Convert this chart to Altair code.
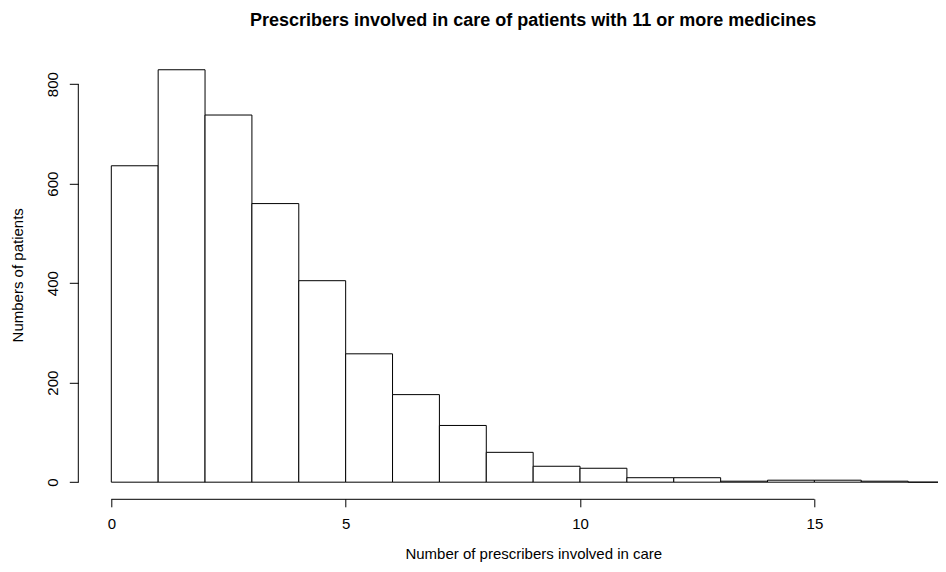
import altair as alt
import pandas as pd

# Histogram bins (number of prescribers) and counts (numbers of patients)
bin_start = list(range(0, 18))
bin_end = list(range(1, 19))
counts = [636, 829, 738, 560, 405, 258, 176, 114, 60, 32, 28, 9, 9, 2, 4, 4, 2, 0]

x_ticks = [0, 5, 10, 15]
y_ticks = [0, 200, 400, 600, 800]

title_text = "Prescribers involved in care of patients with 11 or more medicines"
x_title = "Number of prescribers involved in care"
y_title = "Numbers of patients"

FONT = "Liberation Sans"
PAD_L = 70.3
PAD_T = 42.8
W = 859.7
H = 448
PAD_B = 555 - PAD_T - H

df = pd.DataFrame({"start": bin_start, "end": bin_end, "count": counts})
xaxis_df = pd.DataFrame({"a": [min(x_ticks)], "b": [max(x_ticks)]})
yaxis_df = pd.DataFrame({"a": [min(y_ticks)], "b": [max(y_ticks)]})

xscale = alt.Scale(domain=[-0.704, 17.637], nice=False, zero=False)
yscale = alt.Scale(domain=[-33.4, 867.1], nice=False, zero=False)

bars = alt.Chart(df).mark_rect(
    fill="white", stroke="black", strokeWidth=1, clip=True
).encode(
    x=alt.X("start:Q", scale=xscale,
            axis=alt.Axis(values=x_ticks, domain=False, grid=False, tickSize=8,
                          tickColor="black", labelPadding=10, labelFontSize=15,
                          labelFont=FONT, labelColor="black", labelFlush=False,
                          title=x_title, titleFont=FONT, titleFontSize=15,
                          titleFontWeight="normal", titleColor="black",
                          titleX=455, titleY=55, titleBaseline="middle",
                          titleAlign="center")),
    x2="end:Q",
    y=alt.Y("count:Q", scale=yscale,
            axis=alt.Axis(values=y_ticks, domain=False, grid=False, tickSize=9,
                          tickColor="black", labelAngle=270, labelAlign="center",
                          labelBaseline="bottom", labelPadding=9, labelFontSize=15,
                          labelFont=FONT, labelColor="black", labelFlush=False,
                          title=y_title, titleFont=FONT, titleFontSize=15,
                          titleFontWeight="normal", titleColor="black",
                          titleX=-61.3, titleY=H / 2, titleAngle=270,
                          titleBaseline="middle", titleAlign="center")),
    y2=alt.Y2(datum=0),
)

xline = alt.Chart(xaxis_df).mark_rule(color="black", strokeWidth=1).encode(
    x=alt.X("a:Q", scale=xscale), x2="b:Q", y=alt.value(H + 0.5)
)
yline = alt.Chart(yaxis_df).mark_rule(color="black", strokeWidth=1).encode(
    y=alt.Y("a:Q", scale=yscale), y2="b:Q", x=alt.value(0)
)

chart = alt.layer(bars, xline, yline).properties(
    width=W,
    height=H,
    autosize=alt.AutoSizeParams(type="none"),
    padding={"left": PAD_L, "top": PAD_T, "right": 0, "bottom": PAD_B},
    title=alt.TitleParams(
        text=title_text, font=FONT, fontSize=18, fontWeight="bold",
        color="black", anchor="middle", frame="group", dx=25,
        baseline="alphabetic", offset=7,
    ),
).configure(background="white").configure_view(stroke=None)

chart.save("out.html", embed_options={"renderer": "svg", "actions": False})
